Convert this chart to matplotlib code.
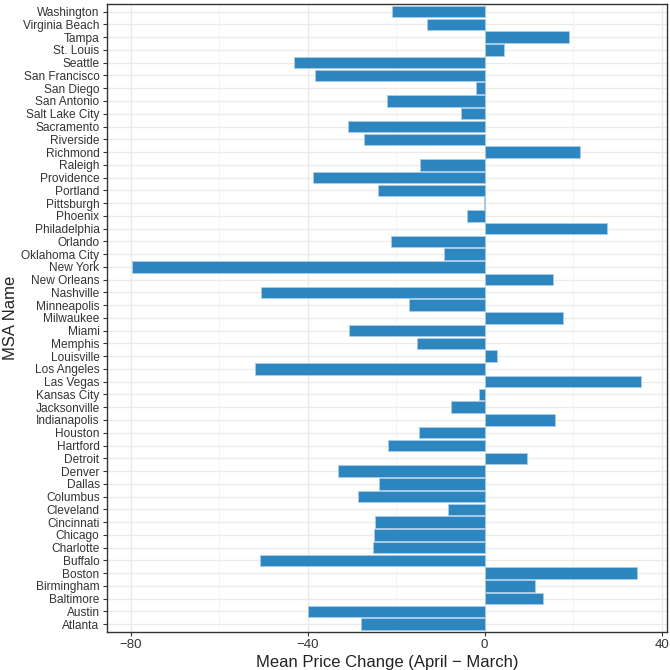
import numpy as np
import matplotlib
matplotlib.use("Agg")
import matplotlib.pyplot as plt
from matplotlib.ticker import MultipleLocator

# MSA names, bottom to top (alphabetical)
msa_names = [
    "Atlanta", "Austin", "Baltimore", "Birmingham", "Boston", "Buffalo",
    "Charlotte", "Chicago", "Cincinnati", "Cleveland", "Columbus", "Dallas",
    "Denver", "Detroit", "Hartford", "Houston", "Indianapolis", "Jacksonville",
    "Kansas City", "Las Vegas", "Los Angeles", "Louisville", "Memphis", "Miami",
    "Milwaukee", "Minneapolis", "Nashville", "New Orleans", "New York",
    "Oklahoma City", "Orlando", "Philadelphia", "Phoenix", "Pittsburgh",
    "Portland", "Providence", "Raleigh", "Richmond", "Riverside", "Sacramento",
    "Salt Lake City", "San Antonio", "San Diego", "San Francisco", "Seattle",
    "St. Louis", "Tampa", "Virginia Beach", "Washington",
]

# mean price change, April minus March
price_change = [
    -27.9, -39.9, 13.2, 11.4, 34.5, -50.9,
    -25.2, -25.1, -24.9, -8.4, -28.7, -24.0,
    -33.1, 9.6, -21.8, -14.8, 15.9, -7.6,
    -1.2, 35.3, -51.9, 2.9, -15.4, -30.7,
    17.8, -17.0, -50.6, 15.5, -79.7,
    -9.1, -21.1, 27.7, -4.1, -0.15,
    -24.2, -38.9, -14.6, 21.5, -27.3, -30.8,
    -5.4, -22.1, -1.9, -38.4, -43.2,
    4.3, 19.0, -13.1, -20.9,
]

plt.rcParams["font.family"] = ["Liberation Sans", "DejaVu Sans"]

fig = plt.figure(figsize=(6.7, 6.7), dpi=100)
ax = fig.add_axes([0.159, 0.057, 0.837, 0.937])

y = np.arange(len(msa_names))
ax.barh(y, price_change, height=0.9, color="#2E86C1",
        edgecolor="#A9CCE8", linewidth=0.6, zorder=3)

ax.set_xlim(-85.5, 41.3)
ax.set_ylim(-0.6, len(msa_names) - 0.4)
ax.set_yticks(y)
ax.set_yticklabels(msa_names)
ax.xaxis.set_major_locator(MultipleLocator(40))
ax.xaxis.set_minor_locator(MultipleLocator(20))

ax.grid(True, which="major", color="#EBEBEB", linewidth=1.0, zorder=0)
ax.grid(True, which="minor", axis="x", color="#F3F3F3", linewidth=0.6, zorder=0)
ax.set_axisbelow(True)

for s in ax.spines.values():
    s.set_color("#333333")
    s.set_linewidth(1.0)

ax.tick_params(axis="both", which="major", length=3, width=0.8,
               color="#333333", labelsize=8.6, labelcolor="#333333", pad=2)
ax.tick_params(axis="x", which="minor", length=0)
ax.tick_params(axis="x", labelsize=9.5)

ax.set_xlabel("Mean Price Change (April \u2212 March)", fontsize=12, color="#222222", labelpad=3)
ax.set_ylabel("MSA Name", fontsize=12, color="#222222")
ax.yaxis.set_label_coords(-0.158, 0.5)

fig.savefig("out.png", dpi=100)
